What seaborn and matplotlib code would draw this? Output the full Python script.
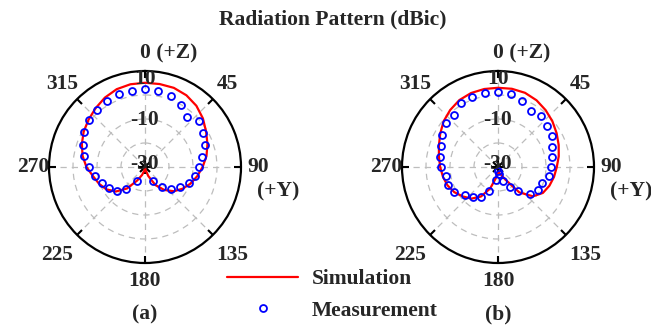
import numpy as np
import pandas as pd
import matplotlib
matplotlib.use("Agg")
import matplotlib.pyplot as plt
from matplotlib.lines import Line2D
import seaborn as sns

# ---------------- data (dBic) ----------------
sim_a_deg = list(range(-180, 181, 10))
sim_a_db = [-29.8, -28.5, -26.5, -23.5, -18.3, -14.1, -11.4, -9.6, -8.0, -5.6,
            -3.6, -2.0, -0.5, 0.7, 2.0, 3.4, 4.5, 5.0, 5.1, 5.1,
            5.1, 4.5, 3.3, 1.5, -0.6, -2.3, -4.0, -6.0, -7.9, -9.8,
            -11.9, -14.3, -17.5, -21.3, -26.0, -28.8, -29.8]
meas_a_deg = list(range(-150, 151, 10))
meas_a_db = [-23.5, -17.9, -14.5, -12.6, -11.1, -9.0, -6.5, -4.1, -2.7, -0.7,
             0.2, 1.1, 1.6, 2.2, 2.3, 2.4, 2.3, 1.7, 0.0, -3.0,
             -0.5, -2.0, -3.6, -5.9, -7.4, -8.7, -10.7, -13.1, -15.8, -19.3,
             -23.5]

sim_b_deg = list(range(-180, 181, 10))
sim_b_db = [-28.0, -25.5, -20.5, -15.8, -12.8, -10.9, -9.0, -7.6, -6.7, -5.9,
            -5.0, -3.8, -2.2, -0.4, 1.0, 2.2, 2.8, 3.0, 3.0, 3.1,
            2.9, 2.1, 0.9, -0.4, -1.8, -3.1, -4.3, -5.5, -6.3, -7.2,
            -8.4, -11.0, -16.2, -24.0, -26.8, -27.6, -28.0]
meas_b_deg = list(range(-170, 181, 10))
meas_b_db = [-24.5, -19.5, -15.8, -13.8, -11.9, -9.0, -8.0, -7.8, -6.4, -5.6,
             -4.8, -3.2, -1.8, -1.5, 0.6, 1.1, 1.4, 1.1, 0.7, -0.9,
             -2.9, -2.3, -3.3, -4.2, -6.0, -7.1, -7.8, -8.6, -10.3, -10.9,
             -12.6, -16.8, -20.3, -23.8, -27.0, -28.5]

angle_ticks = [0, 45, 90, 135, 180, 225, 270, 315]
angle_labels = ["0 (+Z)", "45", "90", "135", "180", "225", "270", "315"]
r_tick_vals = [10, -10, -30]
r_tick_labels = ["10", "-10", "-30"]
r_min, r_max = -30, 10
panel_labels = ["(a)", "(b)"]
title = "Radiation Pattern (dBic)"

# ---------------- style ----------------
sns.set_style("white")
plt.rcParams["font.family"] = ["Liberation Serif", "DejaVu Serif"]
plt.rcParams["font.weight"] = "bold"
FS = 15.5

fig = plt.figure(figsize=(6.51, 3.26), dpi=100)
W, H = 651.0, 326.0
R_PX = 96.0
centers = [(145.0, 167.0), (498.0, 167.0)]


def px_to_r(px):
    return r_min + px / R_PX * (r_max - r_min)


datasets = [(sim_a_deg, sim_a_db, meas_a_deg, meas_a_db),
            (sim_b_deg, sim_b_db, meas_b_deg, meas_b_db)]

label_px = {0: 114, 45: 117, 135: 124, 180: 114, 225: 124, 270: 112, 315: 117}

for i, ((sd, sv, md, mv), (cx, cy)) in enumerate(zip(datasets, centers)):
    ax = fig.add_axes([(cx - R_PX) / W, (H - cy - R_PX) / H, 2 * R_PX / W, 2 * R_PX / H],
                      projection="polar")
    ax.set_theta_zero_location("N")
    ax.set_theta_direction(-1)
    ax.set_ylim(r_min, r_max)

    sim_df = pd.DataFrame({"theta": np.deg2rad(sd), "r": sv})
    meas_df = pd.DataFrame({"theta": np.deg2rad(md), "r": mv})
    sns.lineplot(data=sim_df, x="theta", y="r", ax=ax, sort=False, estimator=None,
                 color="#ff0000", linewidth=1.6, zorder=3)
    sns.lineplot(data=meas_df, x="theta", y="r", ax=ax, sort=False, estimator=None,
                 color="#0000ff", linestyle="none", marker="o", markersize=5,
                 markerfacecolor="none", markeredgecolor="#0000ff",
                 markeredgewidth=1.3, zorder=4)
    ax.set_xlabel("")
    ax.set_ylabel("")

    ax.set_rticks([-20, -10, 0])
    ax.set_yticklabels([])
    ax.set_xticks(np.deg2rad(angle_ticks))
    ax.set_xticklabels([])
    ax.grid(True, color="#bdbdbd", linestyle=(0, (5, 4)), linewidth=0.9)
    ax.spines["polar"].set_linewidth(1.6)
    ax.spines["polar"].set_color("black")
    ax.tick_params(axis="x", which="major", bottom=True, top=True, direction="in",
                   length=5, width=1.5, color="black")

    # radial labels
    for v, lab, px in zip(r_tick_vals, r_tick_labels, [88, 47, 3]):
        ax.text(0, px_to_r(px), lab, ha="center", va="center", fontsize=FS,
                fontweight="bold", zorder=6)

    # angle labels
    for a, lab in zip(angle_ticks, angle_labels):
        th = np.deg2rad(a)
        if a == 0:
            ax.annotate(lab, xy=(th, px_to_r(label_px[0])), xytext=(-3.9, 0),
                        textcoords="offset points", ha="left", va="center",
                        fontsize=FS, fontweight="bold", annotation_clip=False)
        elif a == 90:
            ax.text(th, px_to_r(102), lab, ha="left", va="center", fontsize=FS,
                    fontweight="bold")
        else:
            ax.text(th, px_to_r(label_px[a]), lab, ha="center", va="center",
                    fontsize=FS, fontweight="bold")
    fig.text((cx + 112) / W, 1 - (cy + 24) / H, "(+Y)", ha="left", va="center",
             fontsize=FS, fontweight="bold")
    fig.text(cx / W, 1 - 314 / H, panel_labels[i], ha="center", va="center",
             fontsize=FS, fontweight="bold")

fig.text(333 / W, 1 - 19 / H, title, ha="center", va="center", fontsize=FS,
         fontweight="bold")

handles = [Line2D([], [], color="#ff0000", linewidth=1.6),
           Line2D([], [], color="#0000ff", linestyle="none", marker="o", markersize=5,
                  markerfacecolor="none", markeredgewidth=1.3)]
fig.legend(handles, ["Simulation", "Measurement"], loc="upper left",
           bbox_to_anchor=(227 / W, 1 - 269 / H), frameon=False, borderpad=0,
           borderaxespad=0, handlelength=3.3, handletextpad=0.65, labelspacing=0.55,
           prop={"size": FS, "weight": "bold"})

fig.savefig("out.png", dpi=100)
